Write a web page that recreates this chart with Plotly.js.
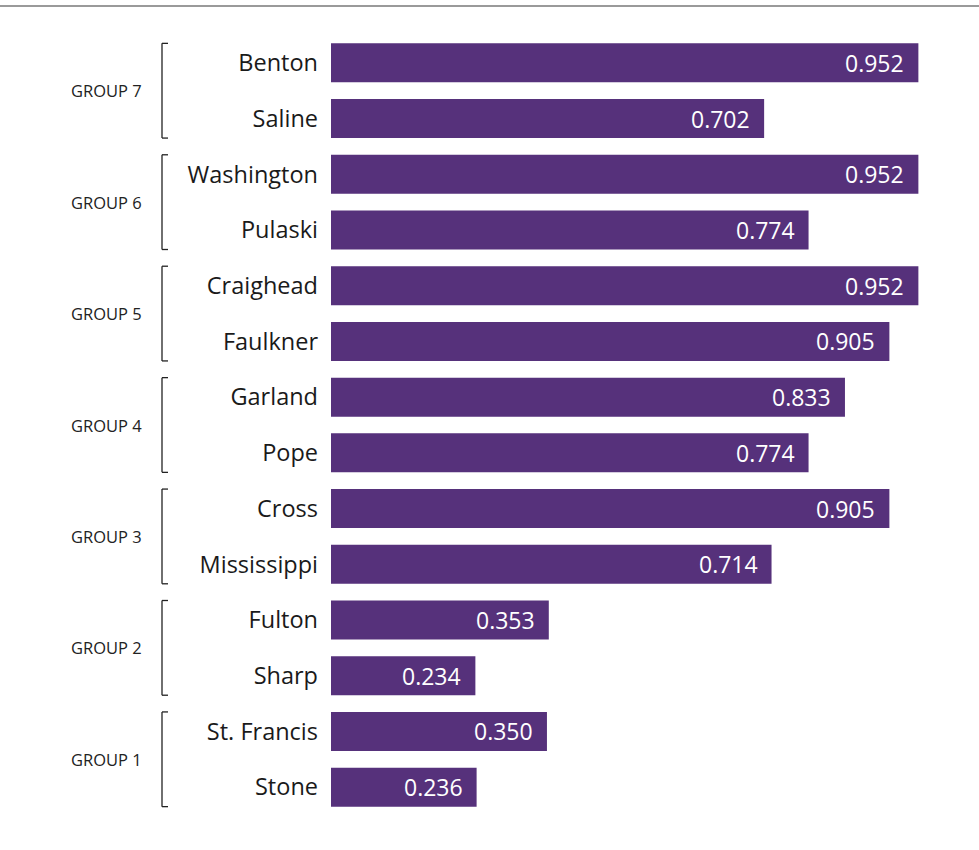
<!DOCTYPE html>
<html>
<head>
<meta charset="utf-8">
<script src="https://cdn.plot.ly/plotly-3.0.1.min.js"></script>
<style>html,body{margin:0;padding:0;background:#fff;}#chart{width:979px;height:850px;}</style>
</head>
<body>
<div id="chart"></div>
<script>
const counties = ["Benton","Saline","Washington","Pulaski","Craighead","Faulkner","Garland","Pope","Cross","Mississippi","Fulton","Sharp","St. Francis","Stone"];
const values = [0.952,0.702,0.952,0.774,0.952,0.905,0.833,0.774,0.905,0.714,0.353,0.234,0.350,0.236];
const groupNames = ["GROUP 7","GROUP 6","GROUP 5","GROUP 4","GROUP 3","GROUP 2","GROUP 1"];
const groupMembers = [["Benton","Saline"],["Washington","Pulaski"],["Craighead","Faulkner"],["Garland","Pope"],["Cross","Mississippi"],["Fulton","Sharp"],["St. Francis","Stone"]];

const FONT = "Open Sans, sans-serif";
const PURPLE = "#56317b";

const trace = {
  type: "bar",
  orientation: "h",
  x: values,
  y: counties,
  marker: {color: PURPLE},
  hoverinfo: "none",
  showlegend: false
};

const annotations = [];
const shapes = [];

// value labels
values.forEach((v, i) => {
  annotations.push({
    xref: "x", yref: "y", x: v, y: counties[i],
    text: v.toFixed(3), showarrow: false,
    xanchor: "right", xshift: -12,
    font: {family: FONT, size: 23, color: "#ffffff"}
  });
});

// group brackets and labels
const half = 0.35;
groupMembers.forEach((members, g) => {
  const i0 = counties.indexOf(members[0]);
  const i1 = counties.indexOf(members[members.length - 1]);
  const yTop = i0 - half, yBot = i1 + half;
  const line = {color: "#222", width: 1.3};
  shapes.push({type: "line", xref: "paper", yref: "y", xsizemode: "pixel", xanchor: 0,
    x0: -169, x1: -169, y0: yTop, y1: yBot, line});
  shapes.push({type: "line", xref: "paper", yref: "y", xsizemode: "pixel", xanchor: 0,
    x0: -169, x1: -163, y0: yTop, y1: yTop, line});
  shapes.push({type: "line", xref: "paper", yref: "y", xsizemode: "pixel", xanchor: 0,
    x0: -169, x1: -163, y0: yBot, y1: yBot, line});
  annotations.push({
    xref: "paper", yref: "y", x: 0, xshift: -225, y: (i0 + i1) / 2,
    text: groupNames[g], showarrow: false, xanchor: "center",
    font: {family: FONT, size: 16.5, color: "#222"}
  });
});

// top rule
shapes.push({type: "line", xref: "paper", yref: "paper", xsizemode: "pixel", ysizemode: "pixel",
  xanchor: 0, yanchor: 1, x0: -331, x1: 660, y0: 29, y1: 29,
  line: {color: "#9a9a9a", width: 2}});

const layout = {
  width: 979, height: 850,
  margin: {l: 331, r: 31, t: 35, b: 35},
  paper_bgcolor: "#fff", plot_bgcolor: "#fff",
  bargap: 0.3,
  xaxis: {range: [0, 1], showgrid: false, zeroline: false, showticklabels: false, ticks: "", showline: false},
  yaxis: {autorange: "reversed", showgrid: false, zeroline: false, ticks: "", showline: false,
    ticklabelstandoff: 12,
    tickfont: {family: FONT, size: 23.5, color: "#1a1a1a"}},
  annotations, shapes,
  font: {family: FONT}
};

Plotly.newPlot("chart", [trace], layout, {displayModeBar: false, staticPlot: true});
</script>
</body>
</html>
